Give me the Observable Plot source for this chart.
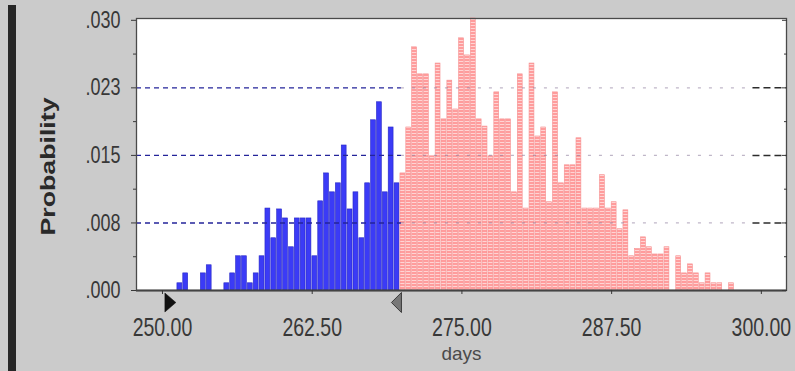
<!DOCTYPE html>
<html>
<head>
<meta charset="utf-8">
<script src="https://cdn.jsdelivr.net/npm/d3@7"></script>
<script src="https://cdn.jsdelivr.net/npm/@observablehq/plot@0.6"></script>
<style>
  html, body { margin: 0; padding: 0; background: #cbcbcb; }
  #wrap { position: relative; width: 795px; height: 371px; overflow: hidden; background: #cbcbcb; }
  #wrap svg { position: absolute; left: 0; top: 0; }
  #stripe { position: absolute; left: 8px; top: 5px; width: 8px; height: 366px; background: #262626; z-index: 2; }
</style>
</head>
<body>
<div id="wrap"><div id="stripe"></div></div>
<script>
// ---- data ----
const firstBinCenter = 251.45;   // days
const binWidth = 0.49;           // days
// probability of each bin, left to right
const probabilities = [
  0.0008, 0.0019, 0, 0, 0.0019, 0.0028, 0, 0, 0.0008, 0.0019,
  0.0038, 0.0038, 0.0008, 0.0019, 0.0038, 0.0091, 0.0058, 0.0090, 0.0080, 0.0048,
  0.0080, 0.0080, 0.0080, 0.0038, 0.0099, 0.0130, 0.0109, 0.0119, 0.0161, 0.0090,
  0.0109, 0.0058, 0.0119, 0.0189, 0.0209, 0.0109, 0.0181, 0.0119,
  0.0130, 0.0181, 0.0270, 0.0240, 0.0240, 0.0149, 0.0252, 0.0190, 0.0233, 0.0201,
  0.0280, 0.0261, 0.0302, 0.0190, 0.0182, 0.0149, 0.0220, 0.0190, 0.0190, 0.0109,
  0.0240, 0.0091, 0.0252, 0.0171, 0.0181, 0.0098, 0.0220, 0.0119, 0.0139, 0.0139,
  0.0169, 0.0091, 0.0091, 0.0091, 0.0128, 0.0091, 0.0098, 0.0068, 0.0089, 0.0038,
  0.0046, 0.0059, 0.0048, 0.0040, 0.0040, 0.0048, 0, 0.0038, 0.0019, 0.0029,
  0.0019, 0.0008, 0.0019, 0.0008, 0.0008, 0, 0.0008
];
const certaintyStart = 250.2;   // black marker
const certaintyEnd = 269.95;    // grey marker, blue/red split
const xTicks = [250, 262.5, 275, 287.5, 300];
const xTickLabels = ["250.00", "262.50", "275.00", "287.50", "300.00"];
const yTicks = [0, 0.0075, 0.015, 0.0225, 0.03];
const yTickLabels = [".000", ".008", ".015", ".023", ".030"];
const yMinorTicks = [0.00375, 0.01125, 0.01875, 0.02625];
const xDomain = [247.83, 302.1];
const yDomain = [0, 0.0302];
const gridDarkRightStart = 299.3;
const xTitle = "days";
const yTitle = "Probability";

// ---- derived table ----
const bins = probabilities.map((p, i) => {
  const c = firstBinCenter + i * binWidth;
  return {c, x0: c - binWidth / 2, x1: c + binWidth / 2, p};
});
const gridTicks = yTicks.filter(t => t > yTicks[0] && t < yTicks[yTicks.length - 1]);
const markers = [{x: certaintyStart}, {x: certaintyEnd}];

const rightTriangle = {draw(ctx) { ctx.moveTo(0, -9.5); ctx.lineTo(11, 0); ctx.lineTo(0, 9.5); ctx.closePath(); }};
const leftTriangle = {draw(ctx) { ctx.moveTo(0, -10); ctx.lineTo(-10, 0); ctx.lineTo(0, 10); ctx.closePath(); }};

const chart = Plot.plot({
  width: 795,
  height: 371,
  marginLeft: 136,
  marginRight: 9,
  marginTop: 18,
  marginBottom: 81,
  style: {background: "#cbcbcb", fontFamily: "'Liberation Sans', Arial, sans-serif", color: "#383838", overflow: "visible"},
  x: {domain: xDomain},
  y: {domain: yDomain},
  marks: [
    Plot.frame({fill: "white", stroke: null}),
    Plot.rectY(bins.filter(d => d.c < certaintyEnd), {
      x1: "x0", x2: "x1", y: "p", fill: "#3b3bf6", stroke: "#2626c6", strokeWidth: 0.6,
      insetLeft: 0.5, insetRight: 0.5
    }),
    Plot.rectY(bins.filter(d => d.c >= certaintyEnd), {
      x1: "x0", x2: "x1", y: "p", fill: "url(#pinkStripe)", stroke: "#f59090", strokeWidth: 0.6,
      insetLeft: 0.5, insetRight: 0.5
    }),
    Plot.ruleY(gridTicks, {x1: xDomain[0], x2: certaintyEnd, stroke: "#24249a", strokeWidth: 1.4, strokeDasharray: "5,4"}),
    Plot.ruleY(gridTicks, {x1: certaintyEnd, x2: gridDarkRightStart, stroke: "#8a7a9a", strokeOpacity: 0.55, strokeWidth: 1.3, strokeDasharray: "3,8"}),
    Plot.ruleY(gridTicks, {x1: gridDarkRightStart, x2: xDomain[1], stroke: "#2c2c2c", strokeWidth: 1.5, strokeDasharray: "7,4"}),
    Plot.frame({stroke: "#4a4a4a", strokeWidth: 1.3}),
    Plot.ruleY([0], {stroke: "#444", strokeWidth: 2}),
    Plot.axisY(yTicks, {
      anchor: "left", tickSize: 5, tickPadding: 11, fontSize: 18,
      tickFormat: d => yTickLabels[yTicks.indexOf(d)],
      label: yTitle, labelAnchor: "center", labelOffset: 96
    }),
    Plot.axisY(yMinorTicks, {anchor: "left", tickSize: 3, tickFormat: () => "", label: null}),
    Plot.axisY(yTicks, {anchor: "right", tickSize: -5, tickFormat: () => "", label: null}),
    Plot.axisY(yMinorTicks, {anchor: "right", tickSize: -3, tickFormat: () => "", label: null}),
    Plot.axisX(xTicks, {
      anchor: "bottom", tickSize: 4, tickPadding: 23, fontSize: 19.5,
      tickFormat: d => xTickLabels[xTicks.indexOf(d)],
      label: xTitle, labelAnchor: "center", labelOffset: 69
    }),
    Plot.dot(markers.slice(0, 1), {x: "x", y: yDomain[0], dy: 12, symbol: rightTriangle, fill: "#111", stroke: "#111", strokeWidth: 0.5}),
    Plot.dot(markers.slice(1), {x: "x", y: yDomain[0], dy: 12, symbol: leftTriangle, fill: "#777", stroke: "#3a3a3a", strokeWidth: 1})
  ]
});

// pattern for the striped pink bars
const defs = document.createElementNS("http://www.w3.org/2000/svg", "defs");
defs.innerHTML = '<pattern id="pinkStripe" patternUnits="userSpaceOnUse" width="6" height="3">' +
  '<rect width="6" height="3" fill="#ff9c9c"/><rect y="1" width="6" height="1" fill="#ffd4d4"/></pattern>';
chart.insertBefore(defs, chart.firstChild);

document.getElementById("wrap").appendChild(chart);

// stretch tick labels vertically to mimic the tall screen font
const sel = d3.select(chart);
function stretch(node, s) {
  const t = node.getAttribute("transform");
  if (t) {
    node.setAttribute("transform", t + ` scale(1,${s})`);
  } else {
    const x = +node.getAttribute("x") || 0, y = +node.getAttribute("y") || 0;
    node.removeAttribute("x"); node.removeAttribute("y");
    node.setAttribute("transform", `translate(${x},${y}) scale(1,${s})`);
  }
}
sel.selectAll('g[aria-label="x-axis tick label"] text').each(function() { stretch(this, 1.32); });
sel.selectAll('g[aria-label="y-axis tick label"] text').each(function() { stretch(this, 1.32); });
sel.selectAll('g[aria-label="y-axis label"]').each(function() {
  const g = d3.select(this);
  g.attr("transform", ((g.attr("transform") || "") + " translate(0,12)").trim());
  g.selectAll("text").text(yTitle)
    .attr("font-weight", "bold").attr("font-size", 21).attr("fill", "#2a2a2a")
    .attr("textLength", 138).attr("lengthAdjust", "spacingAndGlyphs");
});
sel.selectAll('g[aria-label="x-axis label"] text').text(xTitle)
  .attr("font-size", 19).attr("fill", "#4a4a4a")
  .attr("textLength", 40).attr("lengthAdjust", "spacingAndGlyphs");
</script>
</body>
</html>
